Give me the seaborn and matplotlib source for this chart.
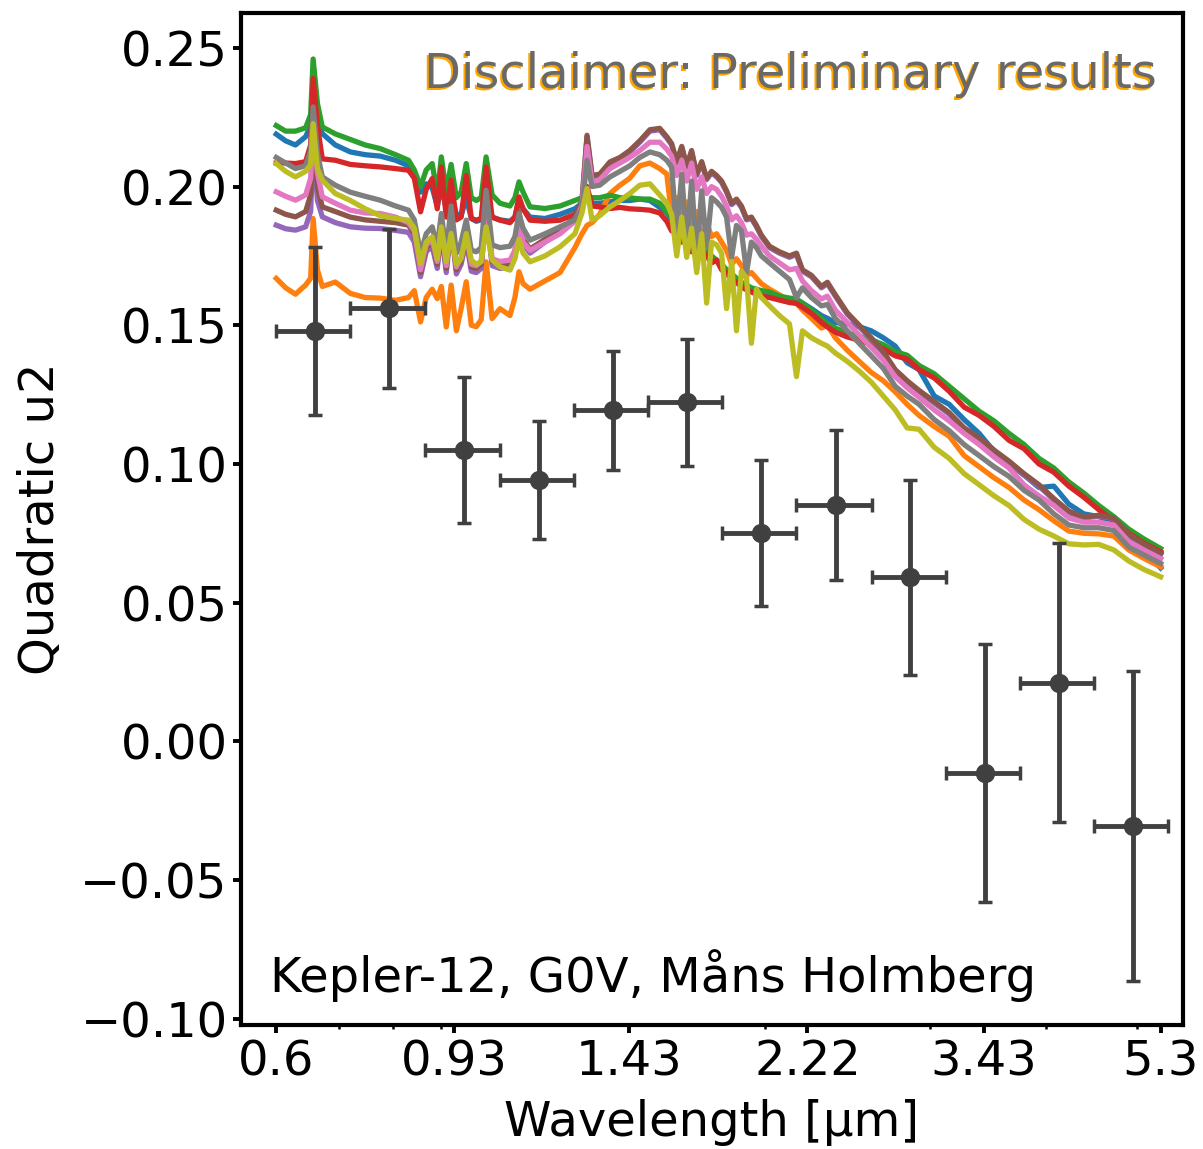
import numpy as np
import pandas as pd
import matplotlib
matplotlib.use("Agg")
import matplotlib.pyplot as plt
import matplotlib.transforms as mtransforms
from matplotlib.ticker import FixedLocator, FixedFormatter, NullFormatter
import seaborn as sns

# ---------------- data ----------------
wavelength = [0.600, 0.614, 0.629, 0.645, 0.653, 0.657, 0.664, 0.672, 0.694, 0.720,
              0.747, 0.775, 0.805, 0.831, 0.843, 0.856, 0.868, 0.881, 0.892, 0.901,
              0.912, 0.923, 0.935, 0.946, 0.958, 0.970, 0.982, 0.994, 1.006, 1.021,
              1.041, 1.067, 1.080, 1.091, 1.102, 1.121, 1.163, 1.207, 1.252, 1.274,
              1.290, 1.306, 1.331, 1.365, 1.399, 1.433, 1.469, 1.506, 1.543, 1.570,
              1.589, 1.609, 1.629, 1.649, 1.669, 1.690, 1.711, 1.732, 1.753, 1.775,
              1.797, 1.819, 1.842, 1.864, 1.887, 1.911, 1.934, 1.958, 1.982, 2.022,
              2.072, 2.124, 2.161, 2.193, 2.242, 2.298, 2.332, 2.378, 2.449, 2.522,
              2.598, 2.676, 2.756, 2.838, 2.923, 3.034, 3.148, 3.266, 3.389, 3.516,
              3.648, 3.785, 3.927, 4.074, 4.227, 4.386, 4.551, 4.722, 4.899, 5.083,
              5.300]

model_blue = [0.2189, 0.2165, 0.2150, 0.2180, 0.2220, 0.2320, 0.2240, 0.2191, 0.2150, 0.2125,
              0.2115, 0.2110, 0.2095, 0.2075, 0.2050, 0.1980, 0.2010, 0.1995, 0.1930, 0.2000,
              0.1920, 0.1970, 0.1900, 0.1895, 0.1960, 0.1885, 0.1875, 0.1880, 0.1980, 0.1890,
              0.1880, 0.1875, 0.1890, 0.1950, 0.1920, 0.1890, 0.1885, 0.1900, 0.1920, 0.1940,
              0.1980, 0.1940, 0.1940, 0.1945, 0.1950, 0.1950, 0.1955, 0.1950, 0.1925, 0.1905,
              0.1880, 0.1860, 0.1835, 0.1820, 0.1790, 0.1780, 0.1765, 0.1760, 0.1745, 0.1735,
              0.1715, 0.1700, 0.1685, 0.1665, 0.1645, 0.1635, 0.1630, 0.1620, 0.1615, 0.1608,
              0.1600, 0.1595, 0.1590, 0.1580, 0.1560, 0.1535, 0.1525, 0.1510, 0.1505, 0.1495,
              0.1480, 0.1455, 0.1425, 0.1365, 0.1340, 0.1245, 0.1215, 0.1160, 0.1110, 0.1045,
              0.1000, 0.0960, 0.0915, 0.0920, 0.0855, 0.0820, 0.0810, 0.0790, 0.0735, 0.0690,
              0.0625]

model_orange = [0.1669, 0.1635, 0.1612, 0.1645, 0.1670, 0.1885, 0.1700, 0.1640, 0.1656, 0.1615,
                0.1600, 0.1598, 0.1590, 0.1600, 0.1625, 0.1512, 0.1600, 0.1630, 0.1596, 0.1640,
                0.1494, 0.1645, 0.1480, 0.1560, 0.1657, 0.1500, 0.1495, 0.1520, 0.1729, 0.1524,
                0.1560, 0.1535, 0.1600, 0.1693, 0.1650, 0.1630, 0.1660, 0.1690, 0.1780, 0.1830,
                0.1860, 0.1870, 0.1900, 0.1975, 0.2005, 0.2030, 0.2075, 0.2085, 0.2065, 0.2045,
                0.1895, 0.1960, 0.1860, 0.1945, 0.1850, 0.1910, 0.1800, 0.1870, 0.1820, 0.1830,
                0.1800, 0.1770, 0.1720, 0.1740, 0.1715, 0.1680, 0.1690, 0.1670, 0.1650, 0.1630,
                0.1610, 0.1585, 0.1580, 0.1555, 0.1525, 0.1490, 0.1500, 0.1455, 0.1410, 0.1370,
                0.1330, 0.1300, 0.1260, 0.1215, 0.1175, 0.1135, 0.1100, 0.1030, 0.0990, 0.0950,
                0.0915, 0.0870, 0.0835, 0.0795, 0.0758, 0.0750, 0.0748, 0.0740, 0.0690, 0.0660,
                0.0629]

model_green = [0.2220, 0.2200, 0.2200, 0.2212, 0.2260, 0.2460, 0.2300, 0.2215, 0.2190, 0.2170,
               0.2150, 0.2137, 0.2115, 0.2095, 0.2060, 0.2000, 0.2060, 0.2083, 0.1970, 0.2107,
               0.1980, 0.2080, 0.1960, 0.1980, 0.2083, 0.1960, 0.1950, 0.1960, 0.2107, 0.1970,
               0.1940, 0.1930, 0.1960, 0.2017, 0.1980, 0.1927, 0.1921, 0.1930, 0.1950, 0.1960,
               0.1970, 0.1960, 0.1960, 0.1969, 0.1960, 0.1960, 0.1955, 0.1955, 0.1940, 0.1910,
               0.1890, 0.1870, 0.1850, 0.1830, 0.1800, 0.1790, 0.1780, 0.1770, 0.1750, 0.1735,
               0.1720, 0.1700, 0.1685, 0.1670, 0.1655, 0.1645, 0.1635, 0.1630, 0.1625, 0.1620,
               0.1605, 0.1598, 0.1595, 0.1580, 0.1555, 0.1525, 0.1505, 0.1490, 0.1472, 0.1460,
               0.1448, 0.1430, 0.1405, 0.1392, 0.1355, 0.1325, 0.1280, 0.1235, 0.1190, 0.1155,
               0.1110, 0.1070, 0.1020, 0.0985, 0.0935, 0.0895, 0.0850, 0.0810, 0.0765, 0.0730,
               0.0695]

model_red = [0.2085, 0.2085, 0.2083, 0.2090, 0.2150, 0.2390, 0.2220, 0.2100, 0.2095, 0.2080,
             0.2075, 0.2071, 0.2065, 0.2059, 0.2030, 0.1909, 0.1990, 0.2029, 0.1920, 0.2071,
             0.1890, 0.2023, 0.1880, 0.1890, 0.2040, 0.1885, 0.1879, 0.1885, 0.2071, 0.1890,
             0.1879, 0.1870, 0.1890, 0.1963, 0.1920, 0.1879, 0.1875, 0.1879, 0.1900, 0.1930,
             0.2000, 0.1930, 0.1927, 0.1921, 0.1925, 0.1920, 0.1918, 0.1915, 0.1905, 0.1875,
             0.1840, 0.1855, 0.1800, 0.1815, 0.1765, 0.1783, 0.1765, 0.1750, 0.1725, 0.1735,
             0.1700, 0.1687, 0.1665, 0.1655, 0.1638, 0.1628, 0.1620, 0.1612, 0.1605, 0.1600,
             0.1591, 0.1582, 0.1579, 0.1565, 0.1543, 0.1510, 0.1494, 0.1475, 0.1458, 0.1446,
             0.1430, 0.1415, 0.1390, 0.1378, 0.1340, 0.1310, 0.1262, 0.1205, 0.1175, 0.1135,
             0.1085, 0.1055, 0.1000, 0.0970, 0.0920, 0.0880, 0.0835, 0.0795, 0.0750, 0.0715,
             0.0683]

model_purple = [0.1861, 0.1848, 0.1843, 0.1855, 0.1910, 0.2150, 0.1950, 0.1891, 0.1870, 0.1855,
                0.1850, 0.1849, 0.1842, 0.1835, 0.1800, 0.1675, 0.1765, 0.1785, 0.1705, 0.1835,
                0.1690, 0.1855, 0.1685, 0.1720, 0.1805, 0.1695, 0.1690, 0.1705, 0.1915, 0.1715,
                0.1705, 0.1710, 0.1745, 0.1890, 0.1795, 0.1760, 0.1800, 0.1835, 0.1885, 0.1945,
                0.2180, 0.2035, 0.2040, 0.2084, 0.2100, 0.2125, 0.2160, 0.2200, 0.2205, 0.2175,
                0.2150, 0.2085, 0.2140, 0.2070, 0.2125, 0.2040, 0.2085, 0.2025, 0.2050, 0.2035,
                0.2015, 0.1980, 0.1935, 0.1950, 0.1925, 0.1880, 0.1885, 0.1855, 0.1820, 0.1780,
                0.1760, 0.1745, 0.1755, 0.1695, 0.1675, 0.1635, 0.1650, 0.1605, 0.1540, 0.1495,
                0.1450, 0.1400, 0.1335, 0.1295, 0.1260, 0.1220, 0.1180, 0.1125, 0.1090, 0.1045,
                0.1005, 0.0960, 0.0920, 0.0870, 0.0825, 0.0805, 0.0812, 0.0803, 0.0742, 0.0708,
                0.0675]

model_brown = [0.1915, 0.1900, 0.1891, 0.1910, 0.1970, 0.2180, 0.2000, 0.1927, 0.1910, 0.1890,
               0.1880, 0.1875, 0.1870, 0.1861, 0.1830, 0.1690, 0.1780, 0.1800, 0.1720, 0.1850,
               0.1705, 0.1870, 0.1700, 0.1735, 0.1820, 0.1710, 0.1705, 0.1720, 0.1935, 0.1730,
               0.1720, 0.1725, 0.1760, 0.1909, 0.1810, 0.1775, 0.1810, 0.1840, 0.1890, 0.1950,
               0.2185, 0.2040, 0.2045, 0.2089, 0.2105, 0.2130, 0.2165, 0.2205, 0.2210, 0.2180,
               0.2155, 0.2090, 0.2145, 0.2075, 0.2130, 0.2045, 0.2090, 0.2030, 0.2055, 0.2040,
               0.2020, 0.1985, 0.1940, 0.1955, 0.1930, 0.1885, 0.1890, 0.1860, 0.1825, 0.1785,
               0.1765, 0.1750, 0.1760, 0.1700, 0.1680, 0.1640, 0.1655, 0.1610, 0.1545, 0.1500,
               0.1455, 0.1405, 0.1340, 0.1300, 0.1265, 0.1225, 0.1185, 0.1130, 0.1095, 0.1050,
               0.1010, 0.0965, 0.0925, 0.0875, 0.0830, 0.0808, 0.0815, 0.0805, 0.0745, 0.0712,
               0.0677]

model_pink = [0.1981, 0.1965, 0.1951, 0.1970, 0.2030, 0.2220, 0.2050, 0.1963, 0.1940, 0.1915,
              0.1905, 0.1903, 0.1890, 0.1870, 0.1840, 0.1700, 0.1790, 0.1810, 0.1730, 0.1860,
              0.1715, 0.1880, 0.1710, 0.1745, 0.1830, 0.1720, 0.1715, 0.1730, 0.1940, 0.1740,
              0.1730, 0.1735, 0.1770, 0.1880, 0.1800, 0.1770, 0.1800, 0.1830, 0.1875, 0.1930,
              0.2145, 0.2015, 0.2025, 0.2065, 0.2085, 0.2105, 0.2130, 0.2160, 0.2160, 0.2135,
              0.2110, 0.2040, 0.2095, 0.2020, 0.2085, 0.1990, 0.2035, 0.1975, 0.2000, 0.1990,
              0.1965, 0.1930, 0.1880, 0.1895, 0.1870, 0.1825, 0.1830, 0.1810, 0.1785, 0.1750,
              0.1725, 0.1700, 0.1705, 0.1660, 0.1625, 0.1595, 0.1605, 0.1555, 0.1510, 0.1465,
              0.1420, 0.1375, 0.1315, 0.1275, 0.1240, 0.1195, 0.1155, 0.1110, 0.1070, 0.1025,
              0.0985, 0.0925, 0.0885, 0.0850, 0.0805, 0.0790, 0.0790, 0.0780, 0.0720, 0.0690,
              0.0659]

model_gray = [0.2105, 0.2085, 0.2065, 0.2075, 0.2130, 0.2287, 0.2120, 0.2035, 0.2005, 0.1980,
              0.1965, 0.1951, 0.1930, 0.1915, 0.1880, 0.1759, 0.1830, 0.1855, 0.1780, 0.1903,
              0.1760, 0.1930, 0.1760, 0.1800, 0.1879, 0.1771, 0.1765, 0.1780, 0.1987, 0.1790,
              0.1780, 0.1785, 0.1820, 0.1903, 0.1850, 0.1807, 0.1830, 0.1855, 0.1880, 0.1920,
              0.2095, 0.2000, 0.2005, 0.2035, 0.2055, 0.2075, 0.2105, 0.2125, 0.2115, 0.2095,
              0.2070, 0.1830, 0.2045, 0.1790, 0.2020, 0.1750, 0.1985, 0.1780, 0.1960, 0.1945,
              0.1925, 0.1890, 0.1745, 0.1860, 0.1840, 0.1690, 0.1800, 0.1780, 0.1750, 0.1725,
              0.1695, 0.1665, 0.1600, 0.1635, 0.1600, 0.1570, 0.1575, 0.1525, 0.1480, 0.1435,
              0.1390, 0.1345, 0.1280, 0.1245, 0.1215, 0.1160, 0.1120, 0.1070, 0.1030, 0.0990,
              0.0955, 0.0905, 0.0870, 0.0820, 0.0780, 0.0770, 0.0770, 0.0760, 0.0700, 0.0672,
              0.0641]

model_olive = [0.2083, 0.2055, 0.2035, 0.2055, 0.2080, 0.2227, 0.2065, 0.2023, 0.1975, 0.1950,
               0.1920, 0.1895, 0.1885, 0.1879, 0.1850, 0.1723, 0.1800, 0.1819, 0.1740, 0.1855,
               0.1730, 0.1831, 0.1720, 0.1740, 0.1831, 0.1735, 0.1720, 0.1730, 0.1855, 0.1735,
               0.1711, 0.1699, 0.1740, 0.1810, 0.1760, 0.1729, 0.1750, 0.1783, 0.1830, 0.1905,
               0.1993, 0.1880, 0.1895, 0.1927, 0.1950, 0.1975, 0.2005, 0.2010, 0.1970, 0.1940,
               0.1900, 0.1750, 0.1890, 0.1745, 0.1850, 0.1690, 0.1830, 0.1580, 0.1800, 0.1790,
               0.1760, 0.1560, 0.1730, 0.1480, 0.1695, 0.1670, 0.1435, 0.1630, 0.1600, 0.1570,
               0.1535, 0.1505, 0.1315, 0.1480, 0.1455, 0.1435, 0.1425, 0.1400, 0.1370, 0.1335,
               0.1295, 0.1245, 0.1195, 0.1130, 0.1125, 0.1060, 0.1020, 0.0965, 0.0925, 0.0885,
               0.0850, 0.0800, 0.0765, 0.0740, 0.0712, 0.0708, 0.0710, 0.0690, 0.0650, 0.0620,
               0.0593]

model_names = ["Model 1", "Model 2", "Model 3", "Model 4", "Model 5",
               "Model 6", "Model 7", "Model 8", "Model 9"]

# measured quadratic u2 in wavelength bins
bin_center = [0.660, 0.7925, 0.9525, 1.145, 1.375, 1.650, 1.980, 2.380, 2.860, 3.435, 4.125, 4.950]
bin_halfwidth = [0.060, 0.0725, 0.0875, 0.105, 0.125, 0.150, 0.180, 0.220, 0.260, 0.315, 0.375, 0.450]
u2_measured = [0.1479, 0.1561, 0.1050, 0.0942, 0.1194, 0.1222, 0.0750, 0.0852, 0.0591, -0.0114, 0.0211, -0.0305]
u2_error = [0.0303, 0.0287, 0.0263, 0.0212, 0.0215, 0.0228, 0.0263, 0.0270, 0.0352, 0.0466, 0.0503, 0.0558]

xtick_values = [0.6, 0.93, 1.43, 2.22, 3.43, 5.3]
xtick_labels = ["0.6", "0.93", "1.43", "2.22", "3.43", "5.3"]
ytick_values = [-0.10, -0.05, 0.00, 0.05, 0.10, 0.15, 0.20, 0.25]

# ---------------- figure ----------------
plt.rcParams['font.family'] = ['DejaVu Sans']
plt.rcParams['axes.unicode_minus'] = True

FS = 34.6

series = [model_blue, model_orange, model_green, model_red, model_purple,
          model_brown, model_pink, model_gray, model_olive]
frames = []
for name, vals in zip(model_names, series):
    frames.append(pd.DataFrame({"wavelength": wavelength, "u2": vals, "model": name}))
df = pd.concat(frames, ignore_index=True)

fig = plt.figure(figsize=(12.03, 11.49), dpi=100)
ax = fig.add_axes([0.2003, 0.1079, 0.7831, 0.8808])

palette = list(sns.color_palette("tab10", 9))
sns.lineplot(data=df, x="wavelength", y="u2", hue="model", hue_order=model_names,
             palette=palette, estimator=None, sort=False, legend=False,
             linewidth=3.8, ax=ax)

ax.errorbar(bin_center, u2_measured, xerr=bin_halfwidth, yerr=u2_error,
            fmt='o', color='#404040', ms=13, elinewidth=3.5, capsize=5,
            capthick=2.5, zorder=10)

ax.set_xscale("log")
ax.set_xlim(0.55, 5.6)
ax.set_ylim(-0.1023, 0.2626)
ax.xaxis.set_major_locator(FixedLocator(xtick_values))
ax.xaxis.set_major_formatter(FixedFormatter(xtick_labels))
ax.xaxis.set_minor_formatter(NullFormatter())
ax.set_yticks(ytick_values)

ax.tick_params(which='major', length=6, width=2.8, labelsize=FS)
ax.tick_params(which='minor', length=3, width=1.8)
for s in ax.spines.values():
    s.set_linewidth(3)
    s.set_color('black')

ax.set_xlabel("Wavelength [μm]", fontsize=FS, labelpad=10)
ax.set_ylabel("Quadratic u2", fontsize=FS, labelpad=12)

# disclaimer with orange shadow
shadow_tr = mtransforms.offset_copy(ax.transAxes, fig=fig, x=-2.5, y=-2.5, units='dots')
ax.text(0.9725, 0.926, "Disclaimer: Preliminary results", transform=shadow_tr,
        ha='right', va='baseline', fontsize=FS, color='orange', zorder=20)
ax.text(0.9725, 0.926, "Disclaimer: Preliminary results", transform=ax.transAxes,
        ha='right', va='baseline', fontsize=FS, color='dimgray', zorder=21)

ax.text(0.031, 0.0326, "Kepler-12, G0V, Måns Holmberg", transform=ax.transAxes,
        ha='left', va='baseline', fontsize=FS, color='black', zorder=20)

fig.savefig("out.png", dpi=100)
